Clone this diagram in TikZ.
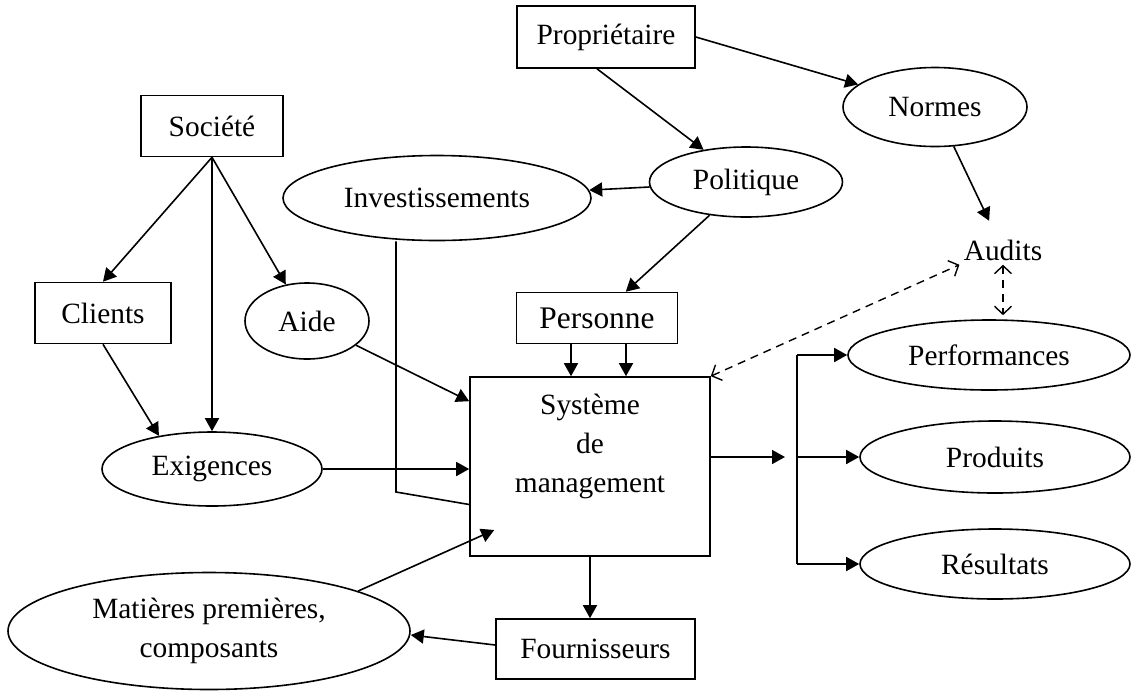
\documentclass[tikz,border=0pt]{standalone}
\usepackage{fontspec}
\setmainfont{Liberation Serif}
\usepackage{tikz}
\usetikzlibrary{shapes.geometric,arrows.meta,calc}

\begin{document}
\begin{tikzpicture}[x=0.5pt,y=-0.5pt,font=\fontsize{14.7pt}{19.5pt}\selectfont]
    \tikzstyle{B}=[rectangle,draw,line width=0.8pt,inner sep=0pt]
    \tikzstyle{E}=[ellipse,draw,line width=0.8pt,inner sep=0pt]
    \tikzstyle{arr}=[line width=0.8pt,-{Triangle[length=6.5pt,width=7pt]}]
    \tikzstyle{dasharr}=[line width=0.7pt,dash pattern=on 4pt off 3pt,{Straight Barb[length=4pt,width=8.5pt]}-{Straight Barb[length=4pt,width=8.5pt]}]

    \useasboundingbox (0,0) rectangle (1136,692);

    % Noeuds
    \node [B,minimum width=89pt,minimum height=31pt] (prop) at (606,37) {Propriétaire};
    \node [B,minimum width=71pt,minimum height=30.5pt] (soc) at (212,126) {Société};
    \node [B,minimum width=68pt,minimum height=30.5pt] (clients) at (103,313) {Clients};
    \node [E,minimum width=62pt,minimum height=38pt] (aide) at (307,321) {Aide};
    \node [E,minimum width=110pt,minimum height=37pt] (exig) at (212,469) {Exigences};
    \node [E,minimum width=154pt,minimum height=42.5pt] (invest) at (437,198) {Investissements};
    \node [E,minimum width=96.5pt,minimum height=35pt] (polit) at (746,182) {Politique};
    \node [E,minimum width=92pt,minimum height=39.5pt] (normes) at (935,107) {Normes};
    \node [inner sep=2pt] (audits) at (1003,250) {Audits};
    \node [B,minimum width=80.5pt,minimum height=25.5pt,font=\fontsize{15.7pt}{19pt}\selectfont] (pers) at (597,318) {Personne};
    \node [B,minimum width=120pt,minimum height=89.5pt] (sys) at (590,466.5) {};
    \node [align=center] (systxt) at ([yshift=10pt]sys.center) {Système\\de\\management};
    \node [B,minimum width=99.5pt,minimum height=30pt] (fourn) at (595.5,649) {Fournisseurs};
    \node [E,minimum width=201pt,minimum height=58.5pt,align=center] (mat) at (209,631) {Matières premières,\\composants};
    \node [E,minimum width=141pt,minimum height=35pt] (perf) at (989,355) {Performances};
    \node [E,minimum width=135pt,minimum height=36pt] (prod) at (995,457) {Produits};
    \node [E,minimum width=135pt,minimum height=35pt] (res) at (995,564) {Résultats};

    \coordinate (branch) at (797,457);
    \coordinate (invbend) at (396,492);

    % Fleches
    \draw [arr] (prop.east) -- (normes);
    \draw [arr] ([xshift=-4.5pt]prop.south) -- (polit);
    \draw [arr] (polit) -- (invest);
    \draw [arr] (polit) -- (pers);
    \draw [arr] (soc.south) -- (clients.north);
    \draw [arr] (soc.south) -- (exig.north);
    \draw [arr] (soc.south) -- (aide);
    \draw [arr] (clients.south) -- (exig.148);
    \draw [arr] (aide) -- ([yshift=-12.5pt]sys.north west);
    \draw [arr] (exig.east) -- (exig.east -| sys.west);
    \draw [line width=0.8pt] (invest.south -| invbend) -- (invbend) -- ([yshift=-19pt]sys.west);
    \draw [arr] (mat.15) -- ([xshift=12.5pt,yshift=-31.75pt]sys.west);
    \draw [arr] (sys.south) -- (sys.south |- fourn.north);
    \draw [arr] ([yshift=2pt]fourn.west) -- ([yshift=-2pt]mat.east);
    \draw [arr] ([xshift=-13pt]pers.south) -- ([xshift=-13pt]pers.south |- sys.north);
    \draw [arr] ([xshift=14.5pt]pers.south) -- ([xshift=14.5pt]pers.south |- sys.north);

    \draw [arr] (sys.east |- branch) -- ([xshift=-6pt]branch);
    \draw [line width=0.8pt] (branch |- perf.west) -- (branch |- res.west);
    \draw [arr] (branch |- perf.west) -- (perf.west);
    \draw [arr] (branch) -- (prod.west);
    \draw [arr] (branch |- res.west) -- (res.west);

    \draw [arr,shorten >=8pt] (normes) -- (audits);
    \draw [dasharr] (sys.north east) -- (audits.south west);
    \draw [dasharr,shorten >=2pt] (audits.south) -- (audits.south |- perf.north);

\end{tikzpicture}
\end{document}
